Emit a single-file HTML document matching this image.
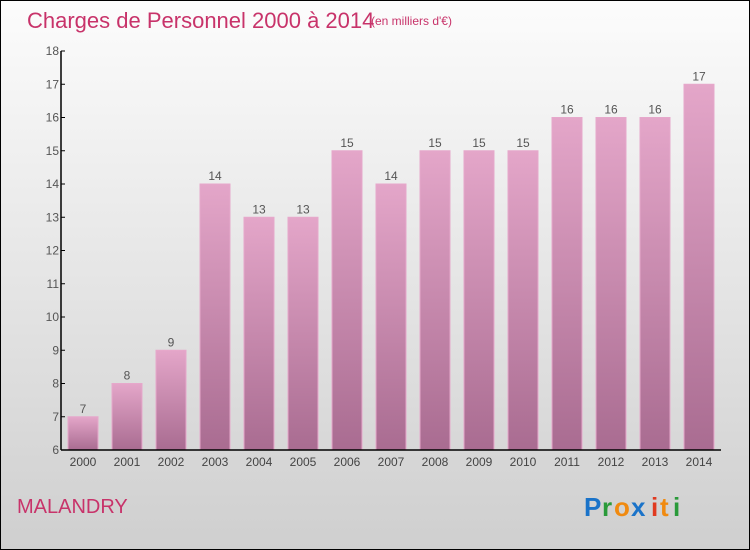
<!DOCTYPE html>
<html><head><style>
body{margin:0}
#c{position:relative;width:748px;height:548px;border:1px solid #000;background:linear-gradient(#fcfcfc,#cfcfcf);font-family:"Liberation Sans",sans-serif;overflow:hidden}
</style></head><body>
<div id="c">
<svg width="748" height="548" style="position:absolute;left:0;top:0" id="svg">
<defs><linearGradient id="bg" x1="0" y1="0" x2="0" y2="1"><stop offset="0" stop-color="#e4a6c9"/><stop offset="1" stop-color="#a96c91"/></linearGradient></defs>
<text x="26" y="27" font-size="22" fill="#c8336a">Charges de Personnel 2000 à 2014</text>
<text x="370" y="24" font-size="12" fill="#c8336a">(en milliers d'€)</text>
<text x="16" y="512" font-size="20" fill="#c8336a">MALANDRY</text>
<g font-size="26" font-weight="bold">
<text x="583" y="515" fill="#1a73c9">P</text><text x="601" y="515" fill="#2a9a3a">r</text><text x="613" y="515" fill="#f08a10">o</text><text x="630" y="515" fill="#1a73c9">x</text><text x="650" y="515" fill="#e03a20">i</text><text x="659" y="515" fill="#f08a10">t</text><text x="672" y="515" fill="#2a9a3a">i</text></g>
<g id="plot"></g>
</svg>
</div>
<script>
const years=["2000","2001","2002","2003","2004","2005","2006","2007","2008","2009","2010","2011","2012","2013","2014"];
const values=[7,8,9,14,13,13,15,14,15,15,15,16,16,16,17];
const yTicks=[6,7,8,9,10,11,12,13,14,15,16,17,18];
const NS="http://www.w3.org/2000/svg";
const g=document.getElementById('plot');
const y0=6,y1=18,py0=449,py1=50,axX=60;
const ys=v=>py0-(v-y0)/(y1-y0)*(py0-py1);
const xs=i=>82+i*44;
function mk(t,a){const e=document.createElementNS(NS,t);for(const k in a)e.setAttribute(k,a[k]);g.appendChild(e);return e;}
values.forEach((v,i)=>{
 const r=mk('rect',{x:xs(i)-15,y:ys(v),width:30,height:py0-ys(v),fill:'url(#bg)',stroke:'#e6a8cb','stroke-width':1});
 
 
 const t=mk('text',{x:xs(i),y:ys(v)-4,'font-size':12,'text-anchor':'middle',fill:'#555'});
 t.textContent=v;
 
 
 const l=mk('text',{x:xs(i),y:py0+16,'font-size':12,'text-anchor':'middle',fill:'#444'});
 l.textContent=years[i];
 
 
});
yTicks.forEach(v=>{
 mk('line',{x1:axX,x2:axX+4,y1:ys(v),y2:ys(v),stroke:'#000'});
 const t=mk('text',{x:axX-2,y:ys(v)+4,'font-size':12,'text-anchor':'end',fill:'#555'});
 t.textContent=v;
 
 
});
const ya=mk('line',{x1:axX,x2:axX,y1:py1,y2:py0,stroke:'#000','stroke-width':1.5});


const xa=mk('line',{x1:axX,x2:720,y1:py0,y2:py0,stroke:'#000','stroke-width':1.5});


</script>
</body></html>
